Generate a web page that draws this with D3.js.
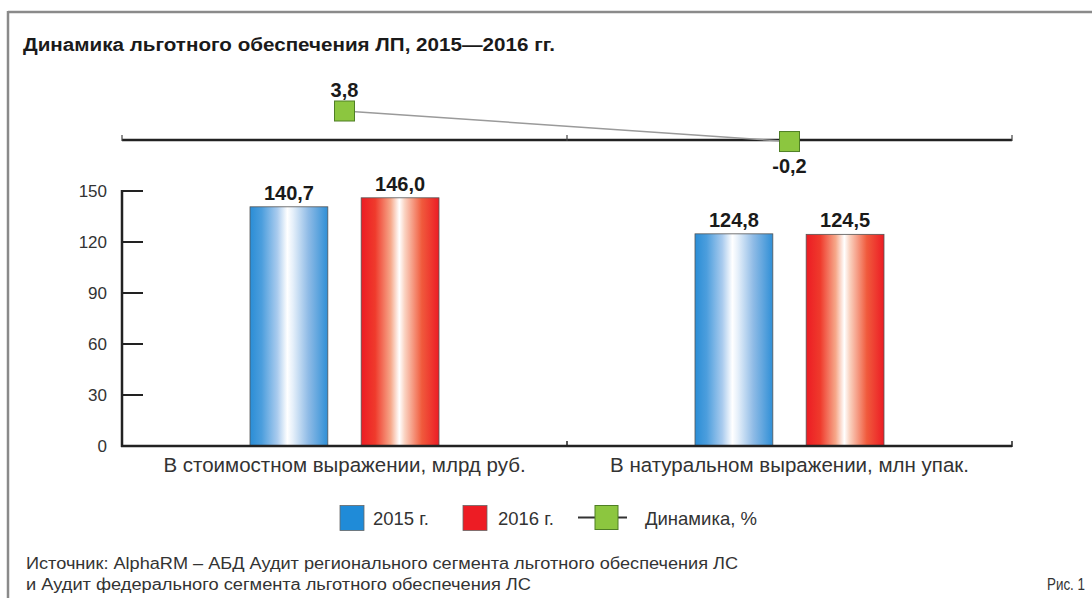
<!DOCTYPE html>
<html><head><meta charset="utf-8">
<script src="https://cdn.jsdelivr.net/npm/d3@7"></script>
<style>
html,body{margin:0;padding:0;background:#fff;}
svg{display:block;font-family:"Liberation Sans",Arial,sans-serif;}
</style></head>
<body>
<svg id="c" width="1092" height="598"></svg>
<script>
const categories = ["В стоимостном выражении, млрд руб.", "В натуральном выражении, млн упак."];
const seriesNames = ["2015 г.", "2016 г."];
const values2015 = [140.7, 124.8];
const values2016 = [146.0, 124.5];
const dynamics = [3.8, -0.2];
const yTicks = [0, 30, 60, 90, 120, 150];
const title = "Динамика льготного обеспечения ЛП, 2015—2016 гг.";
const dynName = "Динамика, %";
const source1 = "Источник: AlphaRM – АБД Аудит регионального сегмента льготного обеспечения ЛС";
const source2 = "и Аудит федерального сегмента льготного обеспечения ЛС";
const figLabel = "Рис. 1";

const fmt = v => d3.format(".1f")(v).replace(".", ",").replace("−", "-");
const svg = d3.select("#c");
const defs = svg.append("defs");

function grad(id, stops){
  const g = defs.append("linearGradient").attr("id", id).attr("x1","0%").attr("x2","100%").attr("y1","0%").attr("y2","0%");
  stops.forEach(s => g.append("stop").attr("offset", s[0]).attr("stop-color", s[1]));
}
grad("gBlue", [["0%","#2a8dd6"],["15%","#4c9edd"],["35%","#a9cbee"],["48%","#ffffff"],["55%","#e6f0fa"],["75%","#8fbbe6"],["100%","#2f8fd6"]]);
grad("gRed", [["0%","#ec1c24"],["18%","#ef3a2c"],["38%","#f6a88a"],["49%","#ffffff"],["56%","#fad2c0"],["78%","#f05a3c"],["100%","#ec1c24"]]);
const fills = ["url(#gBlue)", "url(#gRed)"];
const legendFills = ["#1f8bd8", "#ed1c24"];

// frame
svg.append("line").attr("x1",8).attr("x2",1092).attr("y1",12).attr("y2",12).attr("stroke","#8a8a8a").attr("stroke-width",2.5);
svg.append("line").attr("x1",8).attr("x2",8).attr("y1",11).attr("y2",598).attr("stroke","#8a8a8a").attr("stroke-width",2.5);

// title
svg.append("text").attr("x",23).attr("y",51).attr("font-weight","bold").attr("font-size",17.5)
  .attr("fill","#1a1a1a").attr("textLength",532).attr("lengthAdjust","spacingAndGlyphs").text(title);

const left = 122, right = 1012;
const x0 = d3.scaleBand().domain(categories).range([left, right]);
const x1 = d3.scaleBand().domain(seriesNames).range([-94.5, 94.5]).paddingInner(0.3);
const y = d3.scaleLinear().domain([0, 150]).range([446, 191]);
const yd = d3.scaleLinear().domain([0, 3.8]).range([140, 111]);

// y axis
const yAxis = d3.axisLeft(y).tickValues(yTicks).tickSize(0).tickPadding(15);
const ga = svg.append("g").attr("transform", `translate(${left},0)`).call(yAxis);
ga.select(".domain").remove();
ga.selectAll("text").attr("font-size",17).attr("fill","#333").attr("font-family","Liberation Sans, Arial, sans-serif");
svg.append("g").selectAll("line").data(yTicks).join("line")
  .attr("x1",left).attr("x2",left+21).attr("y1",d=>y(d)).attr("y2",d=>y(d))
  .attr("stroke","#222").attr("stroke-width",2);
svg.append("line").attr("x1",left).attr("x2",left).attr("y1",y(150)-1).attr("y2",y(0)+1).attr("stroke","#222").attr("stroke-width",2.5);

// bars
const groups = svg.append("g").selectAll("g").data(categories).join("g")
  .attr("transform", d => `translate(${x0(d)+x0.bandwidth()/2},0)`);
const rows = [values2015, values2016];
groups.each(function(cat, ci){
  const g = d3.select(this);
  seriesNames.forEach((s, si) => {
    const v = rows[si][ci];
    g.append("rect").attr("x", x1(s)).attr("width", x1.bandwidth())
      .attr("y", y(v)).attr("height", y(0)-y(v))
      .attr("fill", fills[si]).attr("stroke","#555").attr("stroke-width",0.8);
    g.append("text").attr("x", x1(s)+x1.bandwidth()/2).attr("y", y(v)-7)
      .attr("text-anchor","middle").attr("font-weight","bold").attr("font-size",20).attr("fill","#1a1a1a").text(fmt(v));
  });
  g.append("text").attr("x",0).attr("y",472).attr("text-anchor","middle").attr("font-size",20.5).attr("fill","#333").text(cat);
});

// x axis
svg.append("line").attr("x1",left-1).attr("x2",right).attr("y1",446).attr("y2",446).attr("stroke","#222").attr("stroke-width",2.5);
[x0.range()[0]+x0.bandwidth(), right].forEach(px => {
  svg.append("line").attr("x1",px).attr("x2",px).attr("y1",447).attr("y2",441).attr("stroke","#222").attr("stroke-width",1.5);
});

// dynamics axis
svg.append("line").attr("x1",left).attr("x2",right).attr("y1",yd(0)).attr("y2",yd(0)).attr("stroke","#222").attr("stroke-width",2.5);
[left, left + x0.bandwidth(), right].forEach(px => {
  svg.append("line").attr("x1",px).attr("x2",px).attr("y1",yd(0)+1).attr("y2",yd(0)-5).attr("stroke","#444").attr("stroke-width",1.2);
});
const dpts = categories.map((c,i) => [x0(c)+x0.bandwidth()/2, yd(dynamics[i]), dynamics[i]]);
svg.append("path").attr("d", d3.line()(dpts.map(p=>[p[0],p[1]]))).attr("fill","none").attr("stroke","#9a9a9a").attr("stroke-width",1.5);
dpts.forEach(p => {
  svg.append("rect").attr("x",p[0]-10).attr("y",p[1]-10).attr("width",20).attr("height",20)
    .attr("fill","#8cc63f").attr("stroke","#4f7f25").attr("stroke-width",1);
  const above = p[2] >= 0;
  svg.append("text").attr("x",p[0]).attr("y", above ? p[1]-14 : p[1]+31).attr("text-anchor","middle")
    .attr("font-weight","bold").attr("font-size",20).attr("fill","#1a1a1a").text(fmt(p[2]));
});

// legend
const ly = 517.5;
const leg = svg.append("g");
const legItems = [
  {x:340, fill:legendFills[0], label:seriesNames[0], tx:373},
  {x:463, fill:legendFills[1], label:seriesNames[1], tx:498}
];
legItems.forEach(it => {
  leg.append("rect").attr("x",it.x).attr("y",ly-12).attr("width",24).attr("height",25).attr("fill",it.fill).attr("stroke","#666").attr("stroke-width",0.8);
  leg.append("text").attr("x",it.tx).attr("y",ly+7).attr("font-size",18.5).attr("fill","#333").text(it.label);
});
leg.append("line").attr("x1",578).attr("x2",627).attr("y1",ly).attr("y2",ly).attr("stroke","#333").attr("stroke-width",1.8);
leg.append("rect").attr("x",595).attr("y",ly-12).attr("width",23).attr("height",24).attr("fill","#8cc63f").attr("stroke","#4f7f25").attr("stroke-width",1);
leg.append("text").attr("x",645).attr("y",ly+7).attr("font-size",18.5).attr("fill","#333").text(dynName);

// source
svg.append("text").attr("x",26).attr("y",569).attr("font-size",16).attr("fill","#333")
  .attr("textLength",712).attr("lengthAdjust","spacingAndGlyphs").text(source1);
svg.append("text").attr("x",26).attr("y",590).attr("font-size",16).attr("fill","#333")
  .attr("textLength",505).attr("lengthAdjust","spacingAndGlyphs").text(source2);
svg.append("text").attr("x",1085).attr("y",590).attr("text-anchor","end").attr("font-size",16).attr("fill","#333")
  .attr("textLength",38).attr("lengthAdjust","spacingAndGlyphs").text(figLabel);
</script>
</body></html>
